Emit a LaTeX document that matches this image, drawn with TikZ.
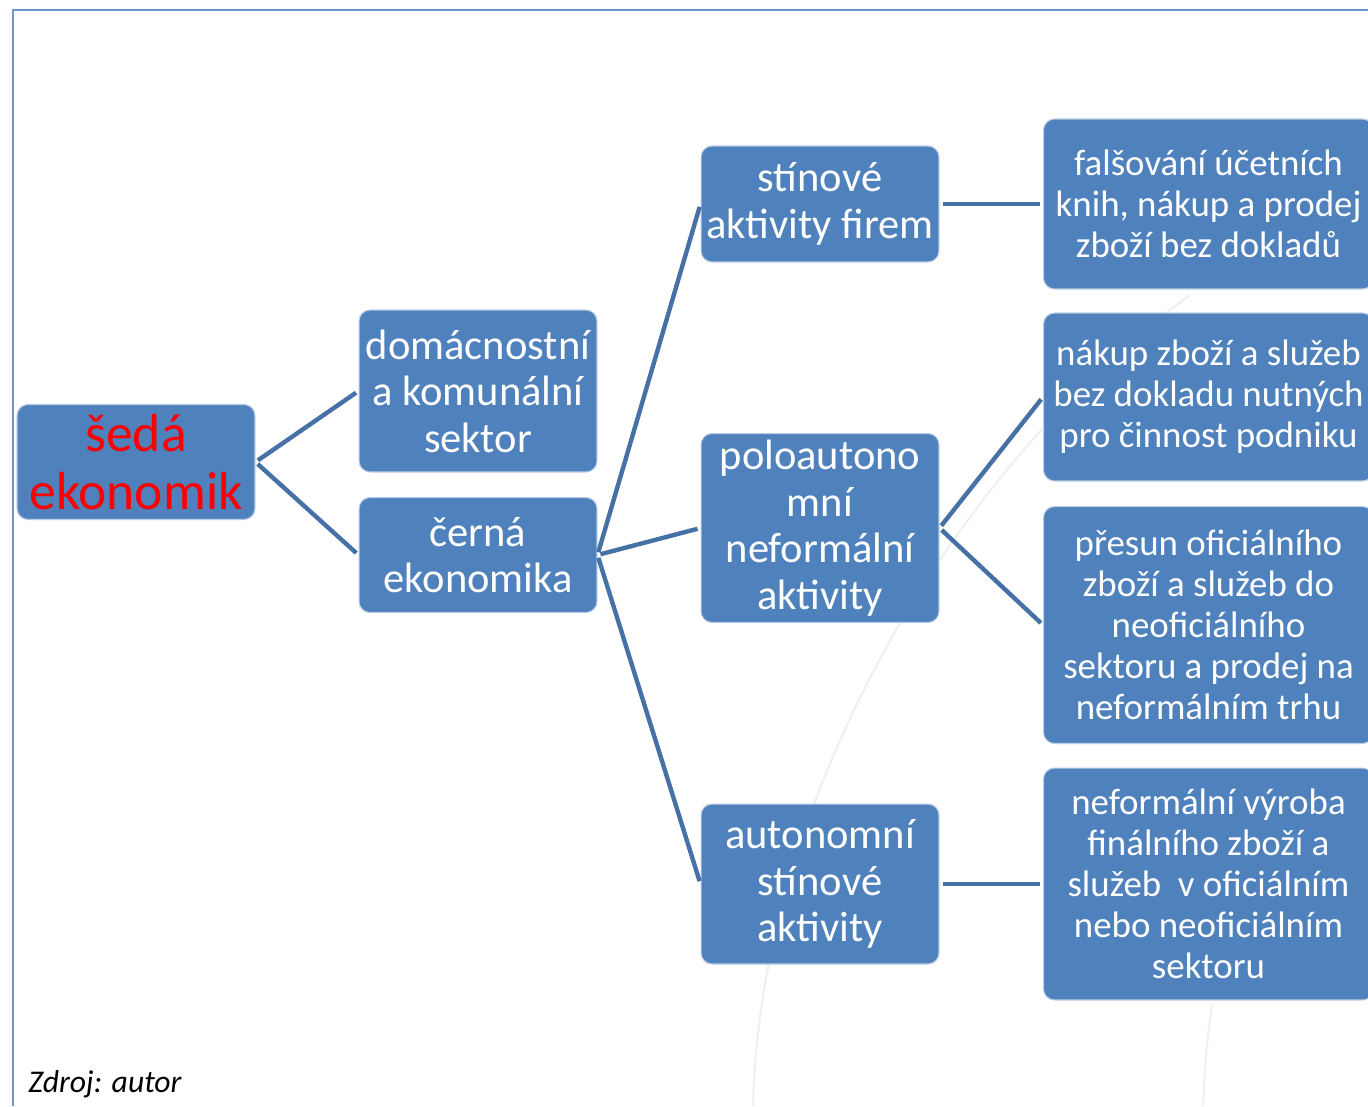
\documentclass[tikz,border=0pt]{standalone}
\usepackage{fontspec}
\setmainfont{Carlito}
\definecolor{boxblue}{RGB}{79,129,189}
\definecolor{linkblue}{RGB}{70,113,166}
\definecolor{frameblue}{RGB}{110,148,204}
\begin{document}
\begin{tikzpicture}[x=0.02cm,y=-0.02cm,
	box/.style={draw=white!60!boxblue, line width=0.6pt, fill=boxblue, rounded corners=0.22cm,
		text=white, align=center, inner sep=1pt, minimum width=4.76cm},
	mid/.style={box, font=\fontsize{24.2}{26.5}\selectfont},
	leaf/.style={box, anchor=west, minimum width=6.6cm, font=\fontsize{21}{23.3}\selectfont},
	link/.style={draw=linkblue, line width=2.5pt, shorten <=1.7pt, shorten >=1.7pt}]
	\useasboundingbox (0,0) rectangle (1368,1106);
	\clip (0,0) rectangle (1368,1106);
	\fill[white] (0,0) rectangle (1368,1106);
	% faint background curves
	\draw[black!6, line width=1.2pt] (1190,295) .. controls (950,470) and (760,800) .. (753,1106);
	\draw[black!6, line width=1.2pt] (1212,1005) .. controls (1206,1050) .. (1203,1106);
	\draw[frameblue, line width=1.4pt] (13,1106) -- (13,10) -- (1368,10);
	% first and second level
	\node[box, minimum height=2.3cm, text=red, font=\fontsize{30.5}{33}\selectfont] (root) at (136,462) {šedá\\ekonomik};
	\node[mid, minimum height=3.24cm] (dom) at (478,391) {domácnostní\\a komunální\\sektor};
	\node[mid, minimum height=2.3cm] (cerna) at (478,555) {černá\\ekonomika};
	% third level
	\node[mid, minimum height=2.32cm] (stin) at (820,204) {stínové\\aktivity firem};
	\node[mid, minimum height=3.78cm] (polo) at (820,528) {poloautono\\mní\\neformální\\aktivity};
	\node[mid, minimum height=3.2cm] (auto) at (820,884) {autonomní\\stínové\\aktivity};
	% leaves
	\node[leaf, minimum height=3.4cm] (fals) at (1043,204) {falšování účetních\\knih, nákup a prodej\\zboží bez dokladů};
	\node[leaf, minimum height=3.36cm] (nakup) at (1043,397) {nákup zboží a služeb\\bez dokladu nutných\\pro činnost podniku};
	\node[leaf, minimum height=4.74cm] (presun) at (1043,625) {přesun oficiálního\\zboží a služeb do\\neoficiálního\\sektoru a prodej na\\neformálním trhu};
	\node[leaf, minimum height=4.64cm] (neform) at (1043,884) {neformální výroba\\finálního zboží a\\služeb~~v oficiálním\\nebo neoficiálním\\sektoru};
	% connectors
	\draw[link] (root.east) -- (dom.west);
	\draw[link] (root.east) -- (cerna.west);
	\draw[link] (cerna.east) -- (stin.west);
	\draw[link] (cerna.east) -- (polo.west);
	\draw[link] (cerna.east) -- (auto.west);
	\draw[link] (stin.east) -- (fals.west);
	\draw[link] (polo.east) -- (nakup.west);
	\draw[link] (polo.east) -- (presun.west);
	\draw[link] (auto.east) -- (neform.west);
	\node[anchor=base west, font=\fontsize{18}{20}\selectfont\itshape, inner sep=0pt] (src) at (28,1092) {Zdroj: autor};
\end{tikzpicture}
\end{document}
